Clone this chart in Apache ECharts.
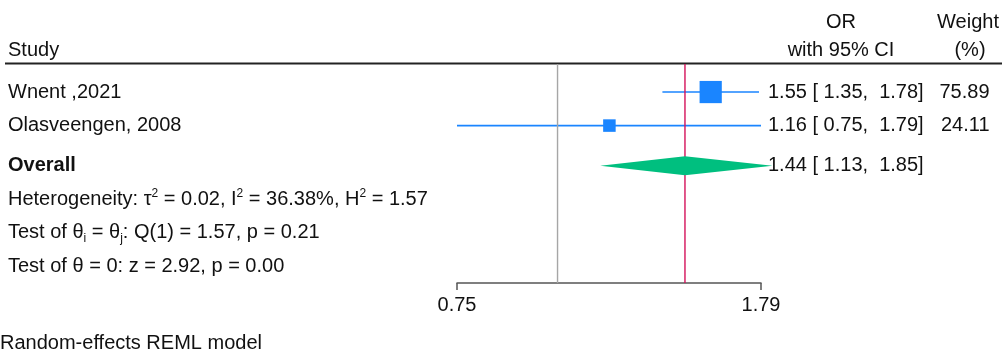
<!DOCTYPE html>
<html><head><meta charset="utf-8">
<script src="https://cdn.jsdelivr.net/npm/echarts@6/dist/echarts.min.js"></script>
<style>html,body{margin:0;padding:0;background:#fff}#c{width:1002px;height:352px}</style>
</head><body><div id="c"></div>
<script>
// ---- data ----
const studies = ['Wnent ,2021', 'Olasveengen, 2008'];
const studyOR = [1.55, 1.16];
const studyLo = [1.35, 0.75];
const studyHi = [1.78, 1.79];
const studyWeight = [75.89, 24.11];
const overallLabel = 'Overall';
const overallOR = 1.44;
const overallLo = 1.13;
const overallHi = 1.85;
const nullValue = 1;
const tickValues = [0.75, 1.79];
const statLines = [
  'Heterogeneity: τ{sup|2} = 0.02, I{sup|2} = 36.38%, H{sup|2} = 1.57',
  'Test of θ{sub|i} = θ{sub|j}: Q(1) = 1.57, p = 0.21',
  'Test of θ = 0: z = 2.92, p = 0.00'
];
const headerStudy = 'Study';
const headerEffect = ['OR', 'with 95% CI'];
const headerWeight = ['Weight', '(%)'];
const footnote = 'Random-effects REML model';

// ---- style / layout ----
const FONT = '"Liberation Sans", Arial, sans-serif';
const FS = 20;
const TXT = '#111111';
const BLUE = '#1a85ff';
const RED = '#d41159';
const GREEN = '#00bf7f';
const GRAY = '#a6a6a6';
const AXIS = '#555555';
const yMin = 0.164, yMax = 6.693;
const studyRow = i => i + 1;
const overallRow = studies.length + 1.2;
const statRow = k => overallRow + 1 + k;
const ln = Math.log;
const fmt = v => v.toFixed(2);
const ciText = (o, l, h) => `${fmt(o)} [ ${fmt(l)},  ${fmt(h)}]`;
const leftX = 8, ciX = 768, wRightX = 989.5;
const RICH = {
  sup: {fontSize: 12, fontFamily: FONT, fill: TXT, verticalAlign: 'top', lineHeight: 24},
  sub: {fontSize: 12, fontFamily: FONT, fill: TXT, verticalAlign: 'bottom', lineHeight: 22}
};

function txt(x, y, text, extra) {
  return {type: 'text', style: Object.assign({
    x: x, y: y, text: text, fill: TXT, fontSize: FS, fontFamily: FONT,
    align: 'left', verticalAlign: 'middle'
  }, extra || {})};
}

const chart = echarts.init(document.getElementById('c'), null, {renderer: 'canvas'});

const studyData = studies.map((s, i) => [ln(studyLo[i]), ln(studyHi[i]), ln(studyOR[i]), studyRow(i), studyWeight[i]]);

const option = {
  animation: false,
  backgroundColor: '#ffffff',
  grid: {left: 457, top: 64, width: 304, height: 219, containLabel: false},
  xAxis: {
    type: 'value',
    min: ln(tickValues[0]),
    max: ln(tickValues[tickValues.length - 1]),
    axisLine: {show: true, lineStyle: {color: AXIS, width: 1.5}},
    axisTick: {show: true, inside: false, length: 7, customValues: tickValues.map(ln), lineStyle: {color: AXIS, width: 1.5}},
    axisLabel: {show: true, customValues: tickValues.map(ln), margin: 12, color: TXT, fontSize: FS, fontFamily: FONT,
      formatter: v => Math.exp(v).toFixed(2)},
    splitLine: {show: false}
  },
  yAxis: {
    type: 'value', inverse: true, min: yMin, max: yMax, show: false
  },
  graphic: [
    txt(leftX, 50, headerStudy),
    txt(841, 22, headerEffect[0], {align: 'center'}),
    txt(841, 50, headerEffect[1], {align: 'center'}),
    txt(968, 22, headerWeight[0], {align: 'center'}),
    txt(970, 50, headerWeight[1], {align: 'center'}),
    {type: 'line', shape: {x1: 5, y1: 63.5, x2: 1002, y2: 63.5}, style: {stroke: '#222222', lineWidth: 2}},
    txt(0, 343, footnote)
  ],
  series: [
    {
      type: 'custom', name: 'ci', clip: false,
      encode: {x: [0, 1, 2], y: 3},
      data: studyData,
      renderItem: function (params, api) {
        const i = params.dataIndex;
        const a = api.coord([api.value(0), api.value(3)]);
        const b = api.coord([api.value(1), api.value(3)]);
        return {type: 'group', children: [
          {type: 'line', shape: {x1: a[0], y1: a[1], x2: b[0], y2: b[1]}, style: {stroke: BLUE, lineWidth: 1.6}},
          txt(leftX, a[1], studies[i]),
          txt(ciX, a[1], ciText(studyOR[i], studyLo[i], studyHi[i])),
          txt(wRightX, a[1], fmt(studyWeight[i]), {align: 'right'})
        ]};
      }
    },
    {
      type: 'custom', name: 'vlines', clip: false,
      encode: {x: 0, y: [1, 2]},
      data: [[ln(nullValue), yMin, yMax, 0], [ln(overallOR), yMin, yMax, 1]],
      renderItem: function (params, api) {
        const a = api.coord([api.value(0), api.value(1)]);
        const b = api.coord([api.value(0), api.value(2)]);
        return {type: 'line', shape: {x1: a[0], y1: a[1], x2: b[0], y2: b[1]},
          style: {stroke: api.value(3) === 0 ? GRAY : RED, lineWidth: 1.4}};
      }
    },
    {
      type: 'custom', name: 'boxes', clip: false,
      encode: {x: 2, y: 3},
      data: studyData,
      renderItem: function (params, api) {
        const c = api.coord([api.value(2), api.value(3)]);
        const s = 2.55 * Math.sqrt(api.value(4));
        return {type: 'rect', shape: {x: c[0] - s / 2, y: c[1] - s / 2, width: s, height: s},
          style: {fill: BLUE}};
      }
    },
    {
      type: 'custom', name: 'overall', clip: false,
      encode: {x: [0, 1, 2], y: 3},
      data: [[ln(overallLo), ln(overallHi), ln(overallOR), overallRow]],
      renderItem: function (params, api) {
        const l = api.coord([api.value(0), api.value(3)]);
        const h = api.coord([api.value(1), api.value(3)]);
        const c = api.coord([api.value(2), api.value(3)]);
        const hh = 9.5;
        return {type: 'group', children: [
          {type: 'polygon', shape: {points: [[l[0], l[1]], [c[0], c[1] - hh], [h[0], h[1]], [c[0], c[1] + hh]]},
            style: {fill: GREEN}},
          txt(leftX, c[1], overallLabel, {fontWeight: 'bold'}),
          txt(ciX, c[1], ciText(overallOR, overallLo, overallHi))
        ]};
      }
    },
    {
      type: 'custom', name: 'stats', clip: false,
      encode: {x: 0, y: 1},
      data: statLines.map((t, k) => [ln(tickValues[0]), statRow(k)]),
      renderItem: function (params, api) {
        const p = api.coord([api.value(0), api.value(1)]);
        return txt(leftX, p[1], statLines[params.dataIndex], {rich: RICH, lineHeight: 24});
      }
    }
  ]
};
chart.setOption(option);
</script>
</body></html>
